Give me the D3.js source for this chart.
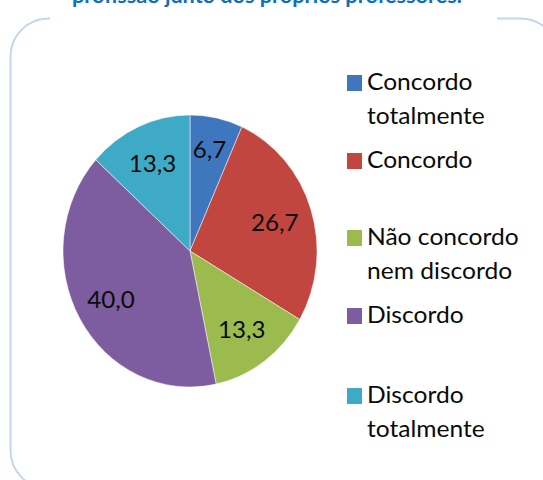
<!DOCTYPE html>
<html>
<head>
<meta charset="utf-8">
<script src="https://cdn.jsdelivr.net/npm/d3@7"></script>
<style>
  html, body { margin: 0; padding: 0; background: #fff; }
  svg { display: block; }
  text { font-family: Lato, "Open Sans", sans-serif; }
</style>
</head>
<body>
<svg id="chart" width="543" height="480"></svg>
<script>
// Survey answers and their shares (%)
const categories = ["Concordo totalmente", "Concordo", "Não concordo nem discordo", "Discordo", "Discordo totalmente"];
const legendLines = [["Concordo", "totalmente"], ["Concordo"], ["Não concordo", "nem discordo"], ["Discordo"], ["Discordo", "totalmente"]];
const values = [6.7, 26.7, 13.3, 40.0, 13.3];
const colors = ["#3f77bf", "#c0463f", "#9bbb4f", "#7d5ca0", "#3eaac6"];
const titleText = "profissão junto dos próprios professores.";

const svg = d3.select("#chart");

// Frame with rounded corners
svg.append("rect")
  .attr("x", 10.5).attr("y", 18.5)
  .attr("width", 548).attr("height", 470)
  .attr("rx", 38).attr("ry", 38)
  .attr("fill", "none")
  .attr("stroke", "#c6d5eb")
  .attr("stroke-width", 2);

// Title box (white) sitting over the top edge of the frame
svg.append("rect")
  .attr("x", 50).attr("y", 0)
  .attr("width", 447).attr("height", 28)
  .attr("fill", "#fff");

svg.append("text")
  .attr("x", 267).attr("y", 3)
  .attr("text-anchor", "middle")
  .attr("textLength", 390)
  .attr("lengthAdjust", "spacingAndGlyphs")
  .attr("font-size", 20)
  .attr("font-weight", "bold")
  .attr("fill", "#0a6fbf")
  .text(titleText);

// Pie
const cx = 190, cy = 251, rx = 127, ry = 136;
const stretch = ry / rx;
const fmt = d3.formatLocale({ decimal: ",", thousands: ".", grouping: [3], currency: ["", ""] }).format(".1f");

const pie = d3.pie().sort(null).value(d => d);
const arcs = pie(values);
const arc = d3.arc().innerRadius(0).outerRadius(rx);

const color = d3.scaleOrdinal().domain(categories).range(colors);

const g = svg.append("g")
  .attr("transform", `translate(${cx},${cy}) scale(1,${stretch})`);

g.selectAll("path")
  .data(arcs)
  .join("path")
  .attr("d", arc)
  .attr("fill", (d, i) => color(categories[i]))
  .attr("stroke", "rgba(255,255,255,0.6)")
  .attr("stroke-width", 0.8);

// Data labels: small slices are pushed a little further out
const labelArc = r => d3.arc().innerRadius(r).outerRadius(r);
svg.append("g")
  .selectAll("text")
  .data(arcs)
  .join("text")
  .attr("transform", d => {
    const small = (d.endAngle - d.startAngle) < Math.PI / 6;
    const [x, y] = labelArc(small ? 98 : 90).centroid(d);
    return `translate(${cx + x - 1},${cy + y * stretch + 1}) scale(1.05,1)`;
  })
  .attr("text-anchor", "middle")
  .attr("dy", "0.36em")
  .attr("font-size", 23)
  .attr("fill", "#0a0a0a")
  .text(d => fmt(d.data));

// Legend
const legendX = 347;
const firstBaseline = [90, 168, 245, 323, 403];
const lineStep = 34;
const sq = 15;

const leg = svg.append("g");
legendLines.forEach((lines, i) => {
  const y0 = firstBaseline[i];
  leg.append("rect")
    .attr("x", legendX).attr("y", y0 - 15)
    .attr("width", sq).attr("height", 16)
    .attr("fill", color(categories[i]));
  const t = leg.append("text")
    .attr("transform", `translate(${legendX + 20},0) scale(1.07,1)`)
    .attr("font-size", 23)
    .attr("fill", "#0a0a0a");
  lines.forEach((ln, j) => {
    t.append("tspan")
      .attr("x", 0)
      .attr("y", y0 + j * lineStep)
      .text(ln);
  });
});
</script>
</body>
</html>
